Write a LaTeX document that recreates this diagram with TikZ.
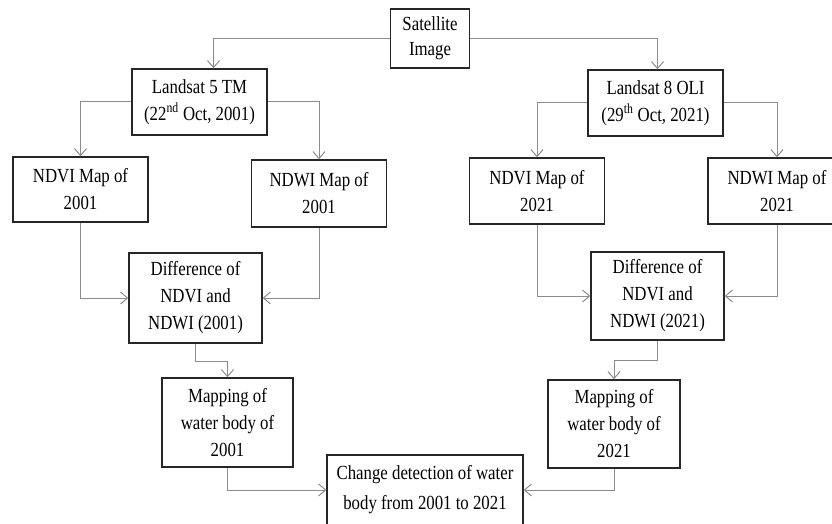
\documentclass[tikz,border=0pt]{standalone}
\usepackage{fontspec}
\setmainfont{Liberation Serif}[FakeStretch=0.84]
\usetikzlibrary{arrows.meta}
\definecolor{boxline}{HTML}{262626}
\definecolor{linegray}{HTML}{8C8C8C}

\begin{document}
\begin{tikzpicture}[x=1pt, y=-1pt,
        box/.style={draw=boxline, line width=1.4pt, minimum width=135pt, minimum height=66pt,
          inner sep=0pt, align=center, font=\fontsize{20}{27}\selectfont},
        tall/.style={box, minimum height=89pt},
        edge_style/.style={draw=linegray, line width=1pt, -{Straight Barb[length=7pt,width=12pt]}}]
        \clip (0,0) rectangle (832,524);
        \node[box, minimum width=79pt, minimum height=59pt, font=\fontsize{20}{25}\selectfont] (sat) at (430, 38.5) {Satellite\\Image};
        \node[box] (ls5) at (199.5, 102) {Landsat 5 TM\\(22\textsuperscript{nd} Oct, 2001)};
        \node[box] (ls8) at (655.5, 103) {Landsat 8 OLI\\(29\textsuperscript{th} Oct, 2021)};
        \node[box, minimum height=65pt] (ndvia) at (80.5, 189.5) {NDVI Map of\\2001};
        \node[box, minimum height=67pt] (ndwia) at (319, 193.5) {NDWI Map of\\2001};
        \node[box] (ndvib) at (537, 191) {NDVI Map of\\2021};
        \node[box, minimum width=138pt] (ndwib) at (777, 191) {NDWI Map of\\2021};
        \node[tall, minimum width=133pt, minimum height=90pt] (diffa) at (195.5, 298) {Difference of\\NDVI and\\NDWI (2001)};
        \node[tall, minimum width=133pt, minimum height=88pt] (diffb) at (657.5, 296) {Difference of\\NDVI and\\NDWI (2021)};
        \node[tall, minimum width=131pt] (mapa) at (227.5, 422.5) {Mapping of\\water body of\\2001};
        \node[tall, minimum width=132pt, minimum height=88pt] (mapb) at (614, 424) {Mapping of\\water body of\\2021};
        \node[box, minimum width=196pt, minimum height=70pt, font=\fontsize{20}{30}\selectfont] (change) at (425, 490) {Change detection of water\\body from 2001 to 2021};
        \draw[edge_style] (sat.west) -| ([xshift=14pt]ls5.north);
        \draw[edge_style] (sat.east) -| ([xshift=2pt]ls8.north);
        \draw[edge_style] (ls5.west) -| (ndvia.north);
        \draw[edge_style] (ls5.east) -| (ndwia.north);
        \draw[edge_style] (ls8.west) -| (ndvib.north);
        \draw[edge_style] (ls8.east) -| (ndwib.north);
        \draw[edge_style] (ndvia.south) |- (diffa.west);
        \draw[edge_style] (ndwia.south) |- (diffa.east);
        \draw[edge_style] (ndvib.south) |- (diffb.west);
        \draw[edge_style] (ndwib.south) |- (diffb.east);
        \draw[edge_style] (diffa.south) -- ++(0,18) -| (mapa.north);
        \draw[edge_style] (diffb.south) -- ++(0,20) -| (mapb.north);
        \draw[edge_style] (mapa.south) |- (change.west);
        \draw[edge_style] (mapb.south) |- (change.east);
      \end{tikzpicture}
\end{document}
